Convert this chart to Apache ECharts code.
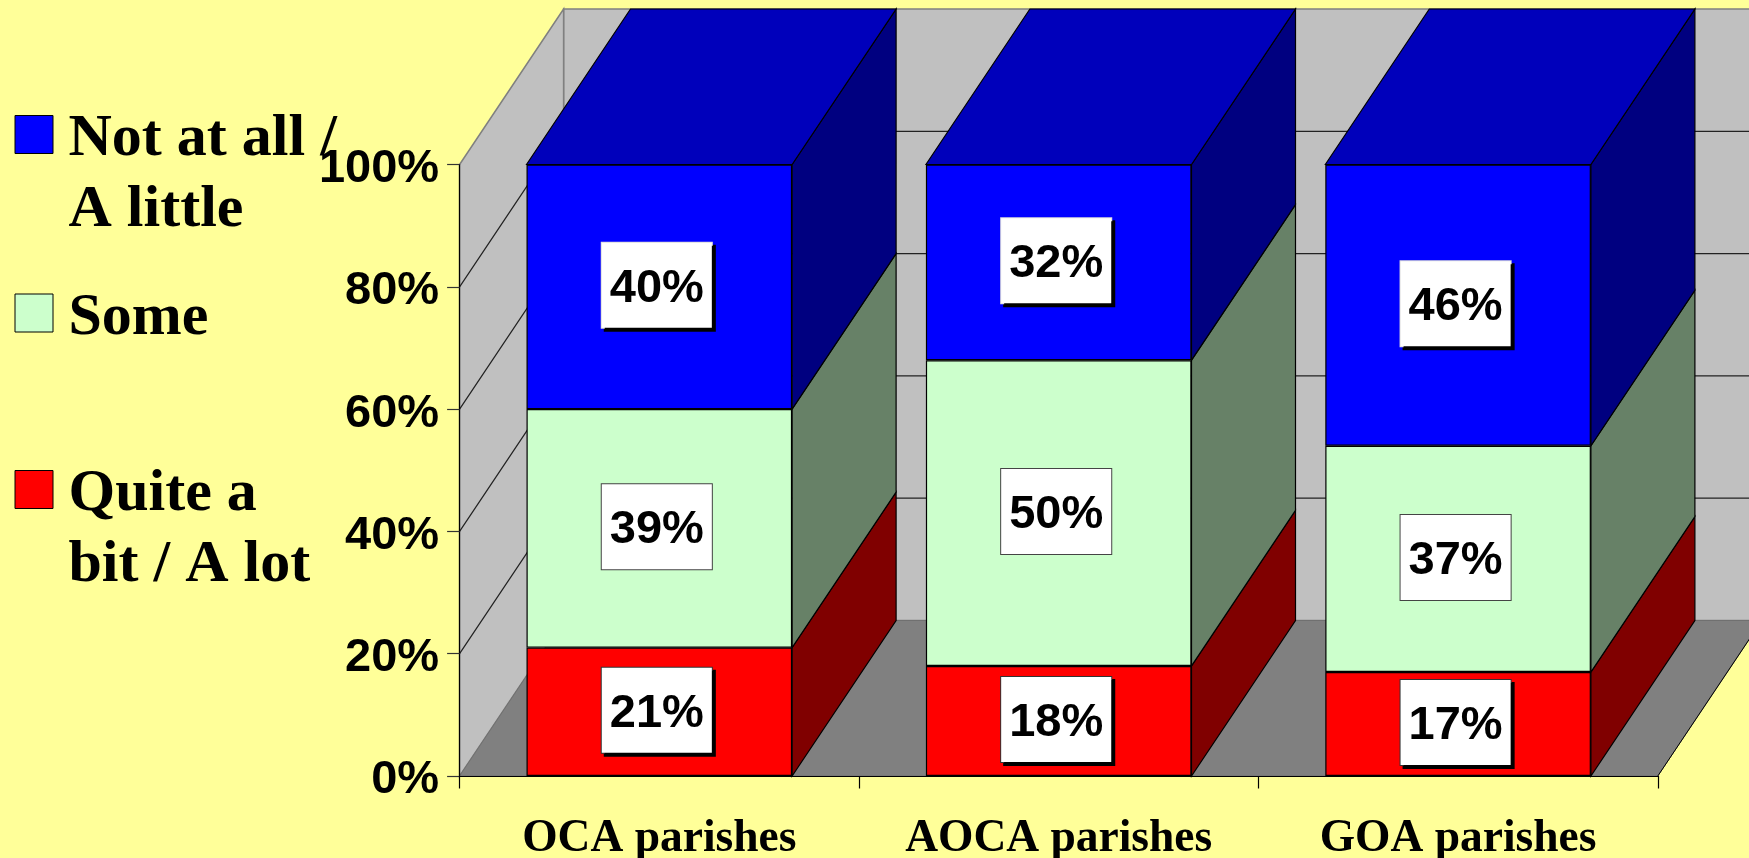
<!DOCTYPE html>
<html>
<head>
<meta charset="utf-8">
<title>Parishes</title>
<style>
html,body{margin:0;padding:0;background:#FFFF99;}
#main{width:1749px;height:858px;}
</style>
<script src="https://cdn.jsdelivr.net/npm/echarts@6/dist/echarts.min.js"></script>
</head>
<body>
<div id="main"></div>
<script>
var categories = ['OCA parishes', 'AOCA parishes', 'GOA parishes'];
var quiteABit = [21, 18, 17];
var some = [39, 50, 37];
var notAtAll = [40, 32, 46];
var legendNames = ['Not at all /\nA little', 'Some', 'Quite a\nbit / A lot'];
var yTicks = [0, 20, 40, 60, 80, 100];

var DX = 104, DY = 155.5;   // depth of the fake 3D box

// back wall, side wall, floor
function renderWalls(params, api){
	var cs = params.coordSys;
	var x0 = cs.x, x1 = cs.x + cs.width;
	var yBottom = api.coord([0, 0])[1];
	var yTop = api.coord([0, 100])[1];
	var kids = [];
	kids.push({type:'polygon', shape:{points:[[x0+DX,yTop-DY],[x1+DX,yTop-DY],[x1+DX,yBottom-DY],[x0+DX,yBottom-DY]]},
		style:{fill:'#C0C0C0', stroke:'#808080', lineWidth:1.5}});
	kids.push({type:'polygon', shape:{points:[[x0,yTop],[x0+DX,yTop-DY],[x0+DX,yBottom-DY],[x0,yBottom]]},
		style:{fill:'#C0C0C0', stroke:'#808080', lineWidth:1.5}});
	kids.push({type:'polygon', shape:{points:[[x0,yBottom],[x0+DX,yBottom-DY],[x1+DX,yBottom-DY],[x1,yBottom]]},
		style:{fill:'#808080', stroke:'#707070', lineWidth:1}});
	kids.push({type:'line', shape:{x1:x1, y1:yBottom, x2:x1+DX, y2:yBottom-DY}, style:{stroke:'#000', lineWidth:1}});
	for(var i=1;i<yTicks.length-1;i++){
		var y = api.coord([0, yTicks[i]])[1];
		kids.push({type:'polyline', shape:{points:[[x0,y],[x0+DX,y-DY],[x1+DX,y-DY]]},
			style:{stroke:'#222', lineWidth:1.2, fill:null}});
	}
	return {type:'group', children:kids};
}

// right side of a bar segment, plus the lid for the top one
function renderSide(params, api){
	var cat = api.value(0);
	var low = api.coord([cat, api.value(1)]);
	var high = api.coord([cat, api.value(2)]);
	var half = api.size([1, 0])[0] * 0.665 / 2;
	var xr = low[0] + half, xl = low[0] - half;
	var kids = [{type:'polygon', shape:{points:[[xr,low[1]],[xr,high[1]],[xr+DX,high[1]-DY],[xr+DX,low[1]-DY]]},
		style:{fill:api.style().fill, stroke:'#000', lineWidth:1.2}}];
	if(api.value(2) >= 100){
		kids.push({type:'polygon', shape:{points:[[xl,high[1]],[xl+DX,high[1]-DY],[xr+DX,high[1]-DY],[xr,high[1]]]},
			style:{fill:'#0000BB', stroke:'#000', lineWidth:1.2}});
	}
	return {type:'group', children:kids};
}

function sideData(bottom, vals){
	var out = [];
	for(var i=0;i<vals.length;i++){
		out.push([i, bottom[i], bottom[i]+vals[i]]);
	}
	return out;
}
function addUp(a, b){
	return a.map(function(v, i){ return v + b[i]; });
}

function frontBar(name, vals, color, labelExtra){
	var label = {
		show:true, position:'inside', offset:[-2.5,-1.5],
		formatter:'{a|{c}%}',
		rich:{a:{color:'#000', fontFamily:'Liberation Sans', fontWeight:'bold', fontSize:47, lineHeight:47, padding:[7,0,0,0]}},
		backgroundColor:'#fff', padding:[19,8,19,8]
	};
	for(var k in labelExtra){ label[k] = labelExtra[k]; }
	return {
		name:name, type:'bar', stack:'total', barWidth:'66.5%', z:4,
		data:vals, label:label,
		itemStyle:{color:color, borderColor:'#000', borderWidth:1.2}
	};
}
function sideSeries(name, data, color){
	return {name:name, type:'custom', renderItem:renderSide, z:3, silent:true,
		encode:{x:0, y:[1,2]}, data:data, itemStyle:{color:color}};
}

var zeros = [0, 0, 0];
var redTop = addUp(zeros, quiteABit);
var greenTop = addUp(redTop, some);

var legendY = [115, 293.5, 470];
var legendColor = ['#0000FF', '#CCFFCC', '#FF0000'];
var legendGfx = [];
legendNames.forEach(function(n, i){
	legendGfx.push({type:'rect', left:14.5, top:legendY[i], z:1, shape:{width:38, height:38},
		style:{fill:legendColor[i], stroke:'#000', lineWidth:1}});
	legendGfx.push({type:'text', left:68.5, top:legendY[i]-11, z:1,
		style:{text:n, fill:'#000', font:'bold 60px "Liberation Serif"', lineHeight:71}});
});

var myChart = echarts.init(document.getElementById('main'));
myChart.setOption({
	backgroundColor:'#FFFF99',
	animation:false,
	grid:{left:459.6, right:91.2, top:164.5, bottom:82, outerBoundsMode:'none'},
	graphic:legendGfx,
	xAxis:{
		type:'category', data:categories, z:5,
		axisLine:{lineStyle:{color:'#000', width:1.2}},
		axisTick:{show:true, length:12.5, lineStyle:{color:'#000', width:1.2}},
		axisLabel:{interval:0, hideOverlap:false, color:'#000', fontFamily:'Liberation Serif', fontWeight:'bold', fontSize:45.5, margin:40}
	},
	yAxis:{
		type:'value', min:0, max:100, interval:20, z:5,
		axisLine:{show:true, lineStyle:{color:'#000', width:1.2}},
		axisTick:{show:true, length:12.5, lineStyle:{color:'#333', width:1.2}},
		splitLine:{show:false},
		axisLabel:{formatter:'{a|{value}%}', margin:20.5,
			rich:{a:{color:'#000', fontFamily:'Liberation Sans', fontWeight:'bold', fontSize:47, lineHeight:47, padding:[9,0,0,0]}}}
	},
	series:[
		{type:'custom', renderItem:renderWalls, z:1, silent:true, encode:{x:0,y:1}, data:[[0,0]]},
		sideSeries('Quite a bit / A lot side', sideData(zeros, quiteABit), '#800000'),
		sideSeries('Some side', sideData(redTop, some), '#678167'),
		sideSeries('Not at all / A little side', sideData(greenTop, notAtAll), '#000080'),
		frontBar('Quite a bit / A lot', quiteABit, '#FF0000', {borderColor:'#333', borderWidth:1, shadowColor:'#000', shadowOffsetX:3, shadowOffsetY:3, shadowBlur:0}),
		frontBar('Some', some, '#CCFFCC', {borderColor:'#444', borderWidth:1}),
		frontBar('Not at all / A little', notAtAll, '#0000FF', {borderColor:'#ddd', borderWidth:1, shadowColor:'#000', shadowOffsetX:3, shadowOffsetY:3, shadowBlur:0})
	]
});
</script>
</body>
</html>
